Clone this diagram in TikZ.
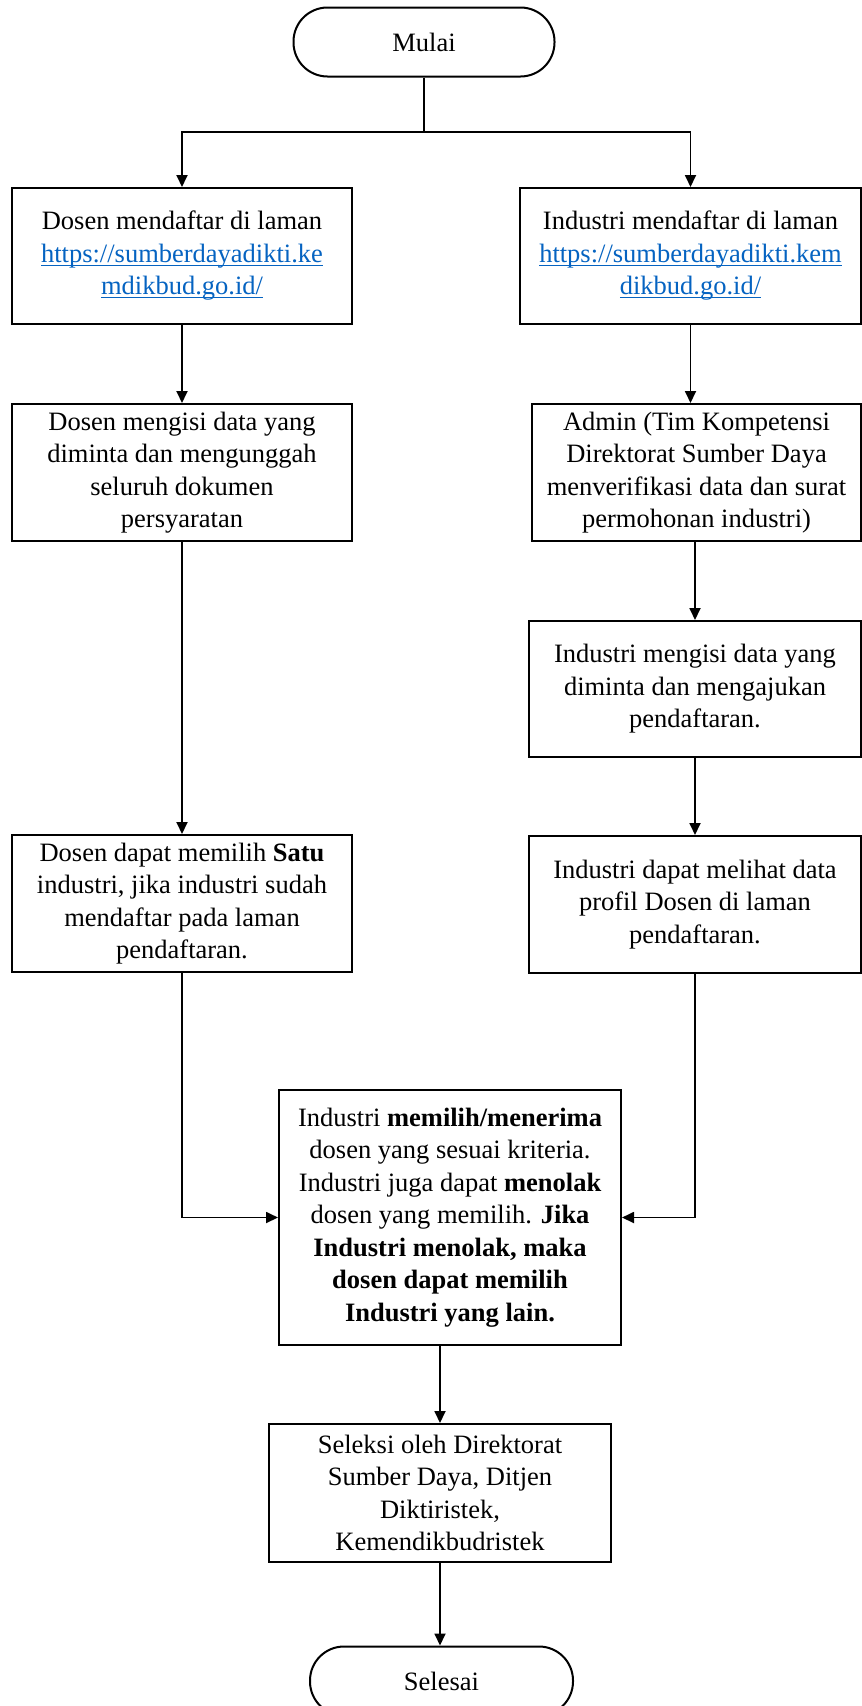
\documentclass[tikz,border=0pt]{standalone}
\usepackage{fontspec}
\setmainfont{Liberation Serif}
\usepackage{xcolor}
\usepackage{tikz}
\usetikzlibrary{arrows.meta,positioning}

\definecolor{linkblue}{HTML}{0563C1}
\newsavebox{\linkbox}
\newcommand{\weblink}[1]{\sbox{\linkbox}{\color{linkblue}#1}%
  {\color{linkblue}\rlap{\usebox{\linkbox}}\rule[-3.5pt]{\wd\linkbox}{1.2pt}}}

\begin{document}
\begin{tikzpicture}[
      x=1pt, y=-1pt,
      font=\fontsize{26.5pt}{32.5pt}\selectfont,
      box/.style={draw, line width=2pt, align=center, inner sep=0pt},
      proc/.style={box, minimum height=137pt},
      term/.style={box, rounded corners=34pt, minimum width=261pt,
                   minimum height=69pt},
      conn/.style={line width=1.8pt},
      flow/.style={conn, -{Triangle[length=12pt, width=11pt]}},
    ]
    \useasboundingbox (0,0) rectangle (862,1706);

    % --- start and the two registration boxes -----------------------------
    \node[term] (start) at (424,42) {Mulai};
    \node[proc, minimum width=340pt, minimum height=136pt] (dreg) at (182,256)
         {Dosen mendaftar di laman\\\weblink{https://sumberdayadikti.ke}\\
          \weblink{mdikbud.go.id/}};
    \node[proc, minimum width=341pt, minimum height=136pt] (ireg) at (690.5,256)
         {Industri mendaftar di laman\\\weblink{https://sumberdayadikti.kem}\\
          \weblink{dikbud.go.id/}};

    % --- lecturer column (left) -------------------------------------------
    \node[proc, minimum width=340pt] (dfill) at (182,472.5)
         {Dosen mengisi data yang\\diminta dan mengunggah\\seluruh dokumen\\
          persyaratan};
    \node[proc, minimum width=340pt] (dpick) at (182,903.5)
         {Dosen dapat memilih \textbf{Satu}\\industri, jika industri sudah\\
          mendaftar pada laman\\pendaftaran.};

    % --- industry column (right) ------------------------------------------
    \node[proc, minimum width=329pt] (admin) at (696.5,472.5)
         {Admin (Tim Kompetensi\\Direktorat Sumber Daya\\
          menverifikasi data dan surat\\permohonan industri)};
    \node[proc, minimum width=332pt, minimum height=136pt] (ifill) at (695,689)
         {Industri mengisi data yang\\diminta dan mengajukan\\pendaftaran.};
    \node[proc, minimum width=332pt] (iview) at (695,904.5)
         {Industri dapat melihat data\\profil Dosen di laman\\pendaftaran.};

    % --- matching, selection, end -----------------------------------------
    \node[proc, minimum width=342pt, minimum height=255pt] (ipick) at (450,1217.5)
         {Industri \textbf{memilih/menerima}\\dosen yang sesuai kriteria.\\
          Industri juga dapat \textbf{menolak}\\dosen yang memilih. \textbf{Jika}\\
          \textbf{Industri menolak, maka}\\\textbf{dosen dapat memilih}\\
          \textbf{Industri yang lain.}};
    \node[proc, minimum width=342pt, minimum height=138pt] (select) at (440,1493)
         {Seleksi oleh Direktorat\\Sumber Daya, Ditjen\\Diktiristek,\\
          Kemendikbudristek};
    \node[term, minimum width=263pt] (finish) at (441.5,1681) {Selesai};

    % --- split below the start --------------------------------------------
    \coordinate (split) at (424,132);
    \draw[conn] (start) -- (split);
    \draw[flow] (split) -| (dreg.north);
    \draw[flow] (split) -| (ireg.north);

    % --- straight runs down each column -----------------------------------
    \draw[flow] (dreg) -- (dfill);
    \draw[flow] (dfill) -- (dpick);
    \draw[flow] (ireg.south) -- (ireg.south |- admin.north);
    \draw[flow] (admin.south -| ifill) -- (ifill.north);
    \draw[flow] (ifill) -- (iview);

    % --- both columns meet in the middle ----------------------------------
    \draw[flow] (dpick.south) |- (ipick.west);
    \draw[flow] (iview.south) |- (ipick.east);
    \draw[flow] (select.north |- ipick.south) -- (select.north);
    \draw[flow] (select.south) -- (select.south |- finish.north);
  \end{tikzpicture}
\end{document}
